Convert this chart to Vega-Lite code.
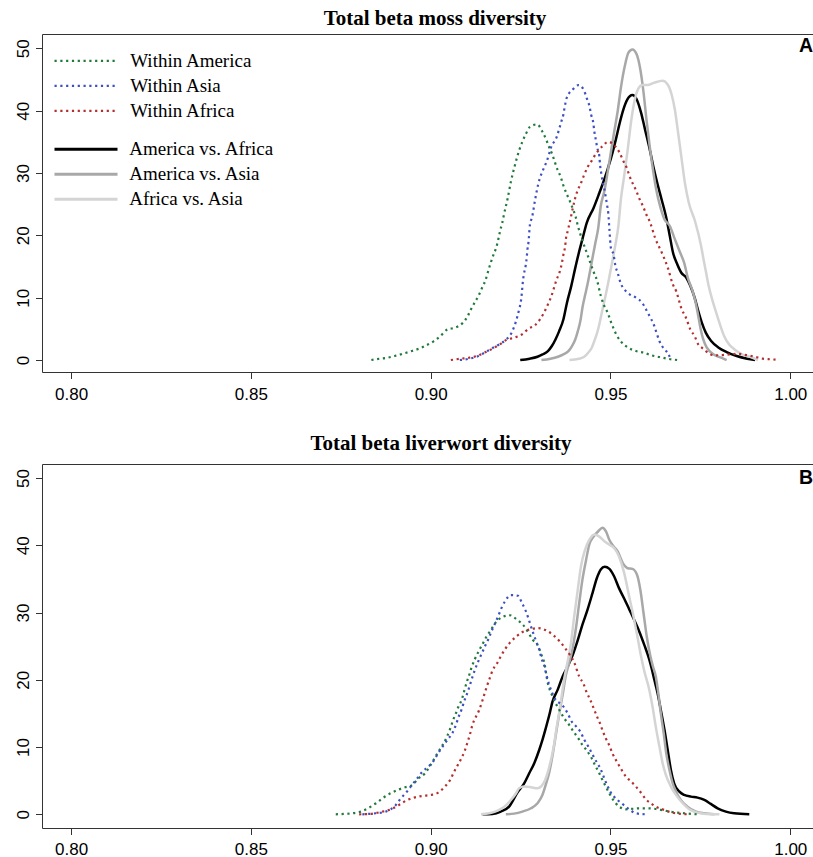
{
"$schema": "https://vega.github.io/schema/vega-lite/v6.json",
"padding": {"left": 14, "top": 8, "right": 0, "bottom": 0},
"background": "white",
"spacing": 30,
"config": {
  "view": {"stroke": null},
  "axis": {"domainColor": "#333333", "tickColor": "#333333", "labelColor": "#000000", "labelFont": "Liberation Sans", "labelFontSize": 17, "grid": false, "tickSize": 6.5, "domainWidth": 1, "tickWidth": 1}
},
"datasets": {
"moss": [
{"g":"Within America","x":0.8835,"y":0},{"g":"Within America","x":0.8857,"y":0.2},{"g":"Within America","x":0.8879,"y":0.37},{"g":"Within America","x":0.8903,"y":0.7},{"g":"Within America","x":0.8926,"y":1.07},{"g":"Within America","x":0.8948,"y":1.45},{"g":"Within America","x":0.897,"y":1.87},{"g":"Within America","x":0.8989,"y":2.4},{"g":"Within America","x":0.9008,"y":3.0},{"g":"Within America","x":0.9027,"y":3.85},{"g":"Within America","x":0.9047,"y":4.92},{"g":"Within America","x":0.9068,"y":5.19},{"g":"Within America","x":0.9088,"y":5.88},{"g":"Within America","x":0.9102,"y":6.95},{"g":"Within America","x":0.9112,"y":8.13},{"g":"Within America","x":0.9122,"y":9.2},{"g":"Within America","x":0.9133,"y":10.3},{"g":"Within America","x":0.9143,"y":11.6},{"g":"Within America","x":0.9153,"y":12.9},{"g":"Within America","x":0.916,"y":14.3},{"g":"Within America","x":0.9167,"y":15.6},{"g":"Within America","x":0.9174,"y":16.8},{"g":"Within America","x":0.9182,"y":18.0},{"g":"Within America","x":0.9189,"y":19.6},{"g":"Within America","x":0.9193,"y":20.7},{"g":"Within America","x":0.9199,"y":22.0},{"g":"Within America","x":0.9204,"y":23.4},{"g":"Within America","x":0.9214,"y":25.9},{"g":"Within America","x":0.9223,"y":28.6},{"g":"Within America","x":0.9234,"y":31.2},{"g":"Within America","x":0.9247,"y":33.8},{"g":"Within America","x":0.9265,"y":36.3},{"g":"Within America","x":0.9276,"y":37.4},{"g":"Within America","x":0.9296,"y":37.8},{"g":"Within America","x":0.931,"y":36.7},{"g":"Within America","x":0.9321,"y":35.4},{"g":"Within America","x":0.9329,"y":34.2},{"g":"Within America","x":0.9338,"y":33.0},{"g":"Within America","x":0.9345,"y":31.8},{"g":"Within America","x":0.9353,"y":30.5},{"g":"Within America","x":0.9362,"y":29.3},{"g":"Within America","x":0.9369,"y":28.0},{"g":"Within America","x":0.9377,"y":26.8},{"g":"Within America","x":0.9387,"y":25.5},{"g":"Within America","x":0.9395,"y":24.3},{"g":"Within America","x":0.9403,"y":23.0},{"g":"Within America","x":0.9409,"y":21.6},{"g":"Within America","x":0.942,"y":19.5},{"g":"Within America","x":0.9434,"y":17.2},{"g":"Within America","x":0.9444,"y":15.6},{"g":"Within America","x":0.9454,"y":14.0},{"g":"Within America","x":0.9463,"y":12.7},{"g":"Within America","x":0.9473,"y":10.3},{"g":"Within America","x":0.9481,"y":8.9},{"g":"Within America","x":0.9492,"y":7.6},{"g":"Within America","x":0.9502,"y":6.0},{"g":"Within America","x":0.9517,"y":4.0},{"g":"Within America","x":0.9528,"y":3.05},{"g":"Within America","x":0.9549,"y":2.0},{"g":"Within America","x":0.9571,"y":1.44},{"g":"Within America","x":0.9593,"y":1.18},{"g":"Within America","x":0.9614,"y":0.75},{"g":"Within America","x":0.9636,"y":0.48},{"g":"Within America","x":0.9658,"y":0.21},{"g":"Within America","x":0.9687,"y":0},
{"g":"Within Asia","x":0.9081,"y":0},{"g":"Within Asia","x":0.9107,"y":0.21},{"g":"Within Asia","x":0.9128,"y":0.53},{"g":"Within Asia","x":0.915,"y":1.18},{"g":"Within Asia","x":0.9169,"y":1.82},{"g":"Within Asia","x":0.9189,"y":2.46},{"g":"Within Asia","x":0.9208,"y":3.21},{"g":"Within Asia","x":0.9225,"y":4.39},{"g":"Within Asia","x":0.9236,"y":5.99},{"g":"Within Asia","x":0.9246,"y":8.13},{"g":"Within Asia","x":0.9251,"y":9.47},{"g":"Within Asia","x":0.9254,"y":11.07},{"g":"Within Asia","x":0.9256,"y":12.4},{"g":"Within Asia","x":0.9259,"y":13.7},{"g":"Within Asia","x":0.9264,"y":15.1},{"g":"Within Asia","x":0.9267,"y":16.4},{"g":"Within Asia","x":0.9269,"y":17.7},{"g":"Within Asia","x":0.9272,"y":18.9},{"g":"Within Asia","x":0.9276,"y":21.7},{"g":"Within Asia","x":0.9282,"y":22.9},{"g":"Within Asia","x":0.929,"y":25.6},{"g":"Within Asia","x":0.9299,"y":28.2},{"g":"Within Asia","x":0.9314,"y":30.7},{"g":"Within Asia","x":0.9323,"y":31.9},{"g":"Within Asia","x":0.9336,"y":34.3},{"g":"Within Asia","x":0.935,"y":35.7},{"g":"Within Asia","x":0.9357,"y":37.0},{"g":"Within Asia","x":0.9363,"y":38.2},{"g":"Within Asia","x":0.9369,"y":39.4},{"g":"Within Asia","x":0.9373,"y":40.7},{"g":"Within Asia","x":0.9378,"y":42.0},{"g":"Within Asia","x":0.9395,"y":43.4},{"g":"Within Asia","x":0.9411,"y":44.1},{"g":"Within Asia","x":0.9426,"y":43.3},{"g":"Within Asia","x":0.9434,"y":42.0},{"g":"Within Asia","x":0.9442,"y":40.6},{"g":"Within Asia","x":0.9446,"y":39.4},{"g":"Within Asia","x":0.9452,"y":38.1},{"g":"Within Asia","x":0.9455,"y":36.7},{"g":"Within Asia","x":0.9459,"y":35.4},{"g":"Within Asia","x":0.9463,"y":34.1},{"g":"Within Asia","x":0.9469,"y":32.7},{"g":"Within Asia","x":0.9471,"y":31.3},{"g":"Within Asia","x":0.9474,"y":30.1},{"g":"Within Asia","x":0.9478,"y":28.7},{"g":"Within Asia","x":0.9483,"y":27.4},{"g":"Within Asia","x":0.9487,"y":26.1},{"g":"Within Asia","x":0.9491,"y":24.7},{"g":"Within Asia","x":0.9494,"y":23.5},{"g":"Within Asia","x":0.9497,"y":21.0},{"g":"Within Asia","x":0.9501,"y":18.0},{"g":"Within Asia","x":0.9509,"y":16.8},{"g":"Within Asia","x":0.9513,"y":15.3},{"g":"Within Asia","x":0.952,"y":14.0},{"g":"Within Asia","x":0.9528,"y":12.4},{"g":"Within Asia","x":0.9542,"y":11.1},{"g":"Within Asia","x":0.9554,"y":10.5},{"g":"Within Asia","x":0.9571,"y":10.0},{"g":"Within Asia","x":0.9588,"y":9.2},{"g":"Within Asia","x":0.96,"y":8.0},{"g":"Within Asia","x":0.9611,"y":6.8},{"g":"Within Asia","x":0.9622,"y":5.45},{"g":"Within Asia","x":0.9629,"y":4.2},{"g":"Within Asia","x":0.9636,"y":3.05},{"g":"Within Asia","x":0.965,"y":1.7},{"g":"Within Asia","x":0.9662,"y":0.9},{"g":"Within Asia","x":0.9667,"y":0},
{"g":"Within Africa","x":0.9056,"y":0},{"g":"Within Africa","x":0.9083,"y":0.21},{"g":"Within Africa","x":0.9106,"y":0.37},{"g":"Within Africa","x":0.9128,"y":0.64},{"g":"Within Africa","x":0.9153,"y":1.28},{"g":"Within Africa","x":0.9172,"y":1.82},{"g":"Within Africa","x":0.9192,"y":2.51},{"g":"Within Africa","x":0.921,"y":3.21},{"g":"Within Africa","x":0.9232,"y":3.58},{"g":"Within Africa","x":0.9254,"y":4.12},{"g":"Within Africa","x":0.9272,"y":5.03},{"g":"Within Africa","x":0.929,"y":5.56},{"g":"Within Africa","x":0.9304,"y":6.52},{"g":"Within Africa","x":0.9316,"y":7.7},{"g":"Within Africa","x":0.9326,"y":8.93},{"g":"Within Africa","x":0.9336,"y":10.3},{"g":"Within Africa","x":0.9343,"y":11.6},{"g":"Within Africa","x":0.935,"y":12.9},{"g":"Within Africa","x":0.9358,"y":14.0},{"g":"Within Africa","x":0.9365,"y":15.6},{"g":"Within Africa","x":0.9369,"y":16.9},{"g":"Within Africa","x":0.9374,"y":18.3},{"g":"Within Africa","x":0.9376,"y":19.4},{"g":"Within Africa","x":0.9381,"y":20.7},{"g":"Within Africa","x":0.9386,"y":21.9},{"g":"Within Africa","x":0.9395,"y":24.3},{"g":"Within Africa","x":0.9401,"y":25.8},{"g":"Within Africa","x":0.9408,"y":27.1},{"g":"Within Africa","x":0.9418,"y":28.4},{"g":"Within Africa","x":0.9426,"y":29.6},{"g":"Within Africa","x":0.9436,"y":30.9},{"g":"Within Africa","x":0.9448,"y":32.0},{"g":"Within Africa","x":0.9461,"y":33.2},{"g":"Within Africa","x":0.9476,"y":34.2},{"g":"Within Africa","x":0.9494,"y":35.0},{"g":"Within Africa","x":0.9513,"y":34.3},{"g":"Within Africa","x":0.9525,"y":33.3},{"g":"Within Africa","x":0.9536,"y":31.9},{"g":"Within Africa","x":0.9546,"y":30.7},{"g":"Within Africa","x":0.9553,"y":29.5},{"g":"Within Africa","x":0.9562,"y":28.3},{"g":"Within Africa","x":0.9572,"y":27.1},{"g":"Within Africa","x":0.9581,"y":25.8},{"g":"Within Africa","x":0.9591,"y":24.6},{"g":"Within Africa","x":0.96,"y":23.3},{"g":"Within Africa","x":0.961,"y":22.1},{"g":"Within Africa","x":0.9624,"y":19.6},{"g":"Within Africa","x":0.9643,"y":17.2},{"g":"Within Africa","x":0.966,"y":14.7},{"g":"Within Africa","x":0.9673,"y":12.2},{"g":"Within Africa","x":0.9683,"y":11.0},{"g":"Within Africa","x":0.9691,"y":9.47},{"g":"Within Africa","x":0.9698,"y":8.13},{"g":"Within Africa","x":0.9708,"y":7.06},{"g":"Within Africa","x":0.9715,"y":5.99},{"g":"Within Africa","x":0.9722,"y":4.92},{"g":"Within Africa","x":0.9734,"y":3.85},{"g":"Within Africa","x":0.9744,"y":2.51},{"g":"Within Africa","x":0.9754,"y":1.98},{"g":"Within Africa","x":0.9765,"y":1.44},{"g":"Within Africa","x":0.9787,"y":0.75},{"g":"Within Africa","x":0.9812,"y":0.8},{"g":"Within Africa","x":0.9854,"y":1.0},{"g":"Within Africa","x":0.9877,"y":0.8},{"g":"Within Africa","x":0.99,"y":0.55},{"g":"Within Africa","x":0.9923,"y":0.22},{"g":"Within Africa","x":0.9947,"y":0.11},{"g":"Within Africa","x":0.9969,"y":0},
{"g":"America vs. Africa","x":0.9249,"y":0},{"g":"America vs. Africa","x":0.9275,"y":0.21},{"g":"America vs. Africa","x":0.9297,"y":0.53},{"g":"America vs. Africa","x":0.9311,"y":0.9},{"g":"America vs. Africa","x":0.9326,"y":1.44},{"g":"America vs. Africa","x":0.9337,"y":2.25},{"g":"America vs. Africa","x":0.9347,"y":3.3},{"g":"America vs. Africa","x":0.9357,"y":4.6},{"g":"America vs. Africa","x":0.9369,"y":6.5},{"g":"America vs. Africa","x":0.9379,"y":9.2},{"g":"America vs. Africa","x":0.9391,"y":11.9},{"g":"America vs. Africa","x":0.9401,"y":14.5},{"g":"America vs. Africa","x":0.9412,"y":17.2},{"g":"America vs. Africa","x":0.9422,"y":19.4},{"g":"America vs. Africa","x":0.9434,"y":22.0},{"g":"America vs. Africa","x":0.9453,"y":24.4},{"g":"America vs. Africa","x":0.9469,"y":26.8},{"g":"America vs. Africa","x":0.9478,"y":28.2},{"g":"America vs. Africa","x":0.9492,"y":30.6},{"g":"America vs. Africa","x":0.9503,"y":32.7},{"g":"America vs. Africa","x":0.9515,"y":35.4},{"g":"America vs. Africa","x":0.9526,"y":38.1},{"g":"America vs. Africa","x":0.9536,"y":40.2},{"g":"America vs. Africa","x":0.9547,"y":41.8},{"g":"America vs. Africa","x":0.9561,"y":42.5},{"g":"America vs. Africa","x":0.9573,"y":41.8},{"g":"America vs. Africa","x":0.9585,"y":39.7},{"g":"America vs. Africa","x":0.9596,"y":37.0},{"g":"America vs. Africa","x":0.9608,"y":34.1},{"g":"America vs. Africa","x":0.9619,"y":31.1},{"g":"America vs. Africa","x":0.9631,"y":28.2},{"g":"America vs. Africa","x":0.9642,"y":25.8},{"g":"America vs. Africa","x":0.9656,"y":22.6},{"g":"America vs. Africa","x":0.9665,"y":19.9},{"g":"America vs. Africa","x":0.9674,"y":17.2},{"g":"America vs. Africa","x":0.9684,"y":15.6},{"g":"America vs. Africa","x":0.9697,"y":14.0},{"g":"America vs. Africa","x":0.9711,"y":13.2},{"g":"America vs. Africa","x":0.9722,"y":11.9},{"g":"America vs. Africa","x":0.9734,"y":10.0},{"g":"America vs. Africa","x":0.9744,"y":7.9},{"g":"America vs. Africa","x":0.9754,"y":6.0},{"g":"America vs. Africa","x":0.9765,"y":4.4},{"g":"America vs. Africa","x":0.978,"y":3.04},{"g":"America vs. Africa","x":0.9801,"y":1.98},{"g":"America vs. Africa","x":0.9823,"y":1.28},{"g":"America vs. Africa","x":0.9851,"y":0.64},{"g":"America vs. Africa","x":0.988,"y":0.21},{"g":"America vs. Africa","x":0.9902,"y":0},
{"g":"America vs. Asia","x":0.9308,"y":0},{"g":"America vs. Asia","x":0.9333,"y":0.21},{"g":"America vs. Asia","x":0.9354,"y":0.53},{"g":"America vs. Asia","x":0.9369,"y":0.9},{"g":"America vs. Asia","x":0.9383,"y":1.44},{"g":"America vs. Asia","x":0.9393,"y":2.25},{"g":"America vs. Asia","x":0.9402,"y":3.3},{"g":"America vs. Asia","x":0.9409,"y":4.6},{"g":"America vs. Asia","x":0.9417,"y":6.5},{"g":"America vs. Asia","x":0.9422,"y":8.4},{"g":"America vs. Asia","x":0.9429,"y":10.3},{"g":"America vs. Asia","x":0.9437,"y":12.4},{"g":"America vs. Asia","x":0.9444,"y":14.5},{"g":"America vs. Asia","x":0.9451,"y":16.7},{"g":"America vs. Asia","x":0.9458,"y":18.8},{"g":"America vs. Asia","x":0.9466,"y":21.2},{"g":"America vs. Asia","x":0.9473,"y":24.7},{"g":"America vs. Asia","x":0.9483,"y":27.1},{"g":"America vs. Asia","x":0.9492,"y":30.1},{"g":"America vs. Asia","x":0.9501,"y":33.3},{"g":"America vs. Asia","x":0.951,"y":36.5},{"g":"America vs. Asia","x":0.952,"y":39.9},{"g":"America vs. Asia","x":0.9529,"y":43.7},{"g":"America vs. Asia","x":0.954,"y":47.2},{"g":"America vs. Asia","x":0.955,"y":49.3},{"g":"America vs. Asia","x":0.9561,"y":49.8},{"g":"America vs. Asia","x":0.9573,"y":49.0},{"g":"America vs. Asia","x":0.9583,"y":46.6},{"g":"America vs. Asia","x":0.9592,"y":42.9},{"g":"America vs. Asia","x":0.96,"y":38.6},{"g":"America vs. Asia","x":0.9609,"y":34.3},{"g":"America vs. Asia","x":0.9618,"y":30.6},{"g":"America vs. Asia","x":0.9627,"y":27.4},{"g":"America vs. Asia","x":0.9638,"y":24.7},{"g":"America vs. Asia","x":0.965,"y":22.6},{"g":"America vs. Asia","x":0.9665,"y":21.5},{"g":"America vs. Asia","x":0.9679,"y":19.4},{"g":"America vs. Asia","x":0.9694,"y":17.2},{"g":"America vs. Asia","x":0.9705,"y":15.6},{"g":"America vs. Asia","x":0.9715,"y":13.2},{"g":"America vs. Asia","x":0.9727,"y":11.3},{"g":"America vs. Asia","x":0.9737,"y":9.2},{"g":"America vs. Asia","x":0.9744,"y":7.1},{"g":"America vs. Asia","x":0.9751,"y":4.9},{"g":"America vs. Asia","x":0.9758,"y":3.3},{"g":"America vs. Asia","x":0.9768,"y":1.98},{"g":"America vs. Asia","x":0.9787,"y":0.9},{"g":"America vs. Asia","x":0.9808,"y":0.37},{"g":"America vs. Asia","x":0.9823,"y":0},
{"g":"Africa vs. Asia","x":0.9386,"y":0},{"g":"Africa vs. Asia","x":0.9412,"y":0.21},{"g":"Africa vs. Asia","x":0.9427,"y":0.53},{"g":"Africa vs. Asia","x":0.9438,"y":1.18},{"g":"Africa vs. Asia","x":0.9448,"y":1.98},{"g":"Africa vs. Asia","x":0.9455,"y":3.04},{"g":"Africa vs. Asia","x":0.9463,"y":4.39},{"g":"Africa vs. Asia","x":0.947,"y":5.99},{"g":"Africa vs. Asia","x":0.9477,"y":7.9},{"g":"Africa vs. Asia","x":0.9484,"y":9.7},{"g":"Africa vs. Asia","x":0.9492,"y":11.9},{"g":"Africa vs. Asia","x":0.9499,"y":14.0},{"g":"Africa vs. Asia","x":0.9506,"y":16.1},{"g":"Africa vs. Asia","x":0.9513,"y":18.3},{"g":"Africa vs. Asia","x":0.9522,"y":21.5},{"g":"Africa vs. Asia","x":0.9529,"y":25.8},{"g":"Africa vs. Asia","x":0.9538,"y":29.5},{"g":"Africa vs. Asia","x":0.9548,"y":33.8},{"g":"Africa vs. Asia","x":0.9557,"y":38.1},{"g":"Africa vs. Asia","x":0.9566,"y":41.3},{"g":"Africa vs. Asia","x":0.9577,"y":43.5},{"g":"Africa vs. Asia","x":0.9589,"y":44.1},{"g":"Africa vs. Asia","x":0.9603,"y":44.1},{"g":"Africa vs. Asia","x":0.9622,"y":44.5},{"g":"Africa vs. Asia","x":0.9645,"y":44.8},{"g":"Africa vs. Asia","x":0.9659,"y":44.2},{"g":"Africa vs. Asia","x":0.967,"y":42.6},{"g":"Africa vs. Asia","x":0.9679,"y":40.2},{"g":"Africa vs. Asia","x":0.9688,"y":36.5},{"g":"Africa vs. Asia","x":0.9698,"y":32.2},{"g":"Africa vs. Asia","x":0.9707,"y":28.4},{"g":"Africa vs. Asia","x":0.9718,"y":25.2},{"g":"Africa vs. Asia","x":0.9735,"y":22.3},{"g":"Africa vs. Asia","x":0.9752,"y":18.3},{"g":"Africa vs. Asia","x":0.9759,"y":16.1},{"g":"Africa vs. Asia","x":0.9766,"y":14.0},{"g":"Africa vs. Asia","x":0.9773,"y":11.9},{"g":"Africa vs. Asia","x":0.9783,"y":9.7},{"g":"Africa vs. Asia","x":0.9794,"y":7.6},{"g":"Africa vs. Asia","x":0.9806,"y":5.45},{"g":"Africa vs. Asia","x":0.9816,"y":3.85},{"g":"Africa vs. Asia","x":0.983,"y":2.5},{"g":"Africa vs. Asia","x":0.9845,"y":1.7},{"g":"Africa vs. Asia","x":0.9866,"y":0.9},{"g":"Africa vs. Asia","x":0.9888,"y":0.53},{"g":"Africa vs. Asia","x":0.991,"y":0}
],
"liver": [
{"g":"Within America","x":0.8736,"y":0},{"g":"Within America","x":0.8759,"y":0.05},{"g":"Within America","x":0.8783,"y":0.15},{"g":"Within America","x":0.8806,"y":0.4},{"g":"Within America","x":0.8829,"y":0.99},{"g":"Within America","x":0.8848,"y":1.64},{"g":"Within America","x":0.8866,"y":2.38},{"g":"Within America","x":0.8885,"y":3.03},{"g":"Within America","x":0.8908,"y":3.62},{"g":"Within America","x":0.8929,"y":4.02},{"g":"Within America","x":0.895,"y":4.37},{"g":"Within America","x":0.8963,"y":5.2},{"g":"Within America","x":0.8984,"y":6.1},{"g":"Within America","x":0.8996,"y":7.0},{"g":"Within America","x":0.9007,"y":8.0},{"g":"Within America","x":0.9019,"y":9.1},{"g":"Within America","x":0.9033,"y":10.3},{"g":"Within America","x":0.9044,"y":11.4},{"g":"Within America","x":0.9054,"y":12.7},{"g":"Within America","x":0.9063,"y":14.1},{"g":"Within America","x":0.907,"y":15.0},{"g":"Within America","x":0.9077,"y":16.0},{"g":"Within America","x":0.9086,"y":17.0},{"g":"Within America","x":0.9093,"y":18.3},{"g":"Within America","x":0.91,"y":19.6},{"g":"Within America","x":0.9107,"y":20.7},{"g":"Within America","x":0.9114,"y":21.9},{"g":"Within America","x":0.9123,"y":23.1},{"g":"Within America","x":0.9133,"y":24.2},{"g":"Within America","x":0.9144,"y":25.3},{"g":"Within America","x":0.9155,"y":26.4},{"g":"Within America","x":0.9167,"y":27.4},{"g":"Within America","x":0.9179,"y":28.4},{"g":"Within America","x":0.9198,"y":29.3},{"g":"Within America","x":0.922,"y":29.6},{"g":"Within America","x":0.9241,"y":28.9},{"g":"Within America","x":0.9258,"y":28.1},{"g":"Within America","x":0.9271,"y":27.1},{"g":"Within America","x":0.9283,"y":26.0},{"g":"Within America","x":0.9299,"y":25.0},{"g":"Within America","x":0.9308,"y":23.7},{"g":"Within America","x":0.9316,"y":22.5},{"g":"Within America","x":0.9325,"y":19.7},{"g":"Within America","x":0.9339,"y":17.5},{"g":"Within America","x":0.9358,"y":15.5},{"g":"Within America","x":0.9371,"y":14.3},{"g":"Within America","x":0.9385,"y":13.3},{"g":"Within America","x":0.9397,"y":12.3},{"g":"Within America","x":0.9408,"y":11.5},{"g":"Within America","x":0.9422,"y":10.3},{"g":"Within America","x":0.9434,"y":9.5},{"g":"Within America","x":0.9446,"y":8.5},{"g":"Within America","x":0.9457,"y":7.3},{"g":"Within America","x":0.9467,"y":6.3},{"g":"Within America","x":0.9476,"y":5.3},{"g":"Within America","x":0.9487,"y":4.1},{"g":"Within America","x":0.9497,"y":3.1},{"g":"Within America","x":0.9508,"y":2.1},{"g":"Within America","x":0.9524,"y":1.14},{"g":"Within America","x":0.9543,"y":0.74},{"g":"Within America","x":0.9557,"y":0.79},{"g":"Within America","x":0.958,"y":0.89},{"g":"Within America","x":0.9603,"y":0.89},{"g":"Within America","x":0.9626,"y":0.79},{"g":"Within America","x":0.965,"y":0.55},{"g":"Within America","x":0.9677,"y":0.3},{"g":"Within America","x":0.9705,"y":0.15},{"g":"Within America","x":0.9742,"y":0},
{"g":"Within Asia","x":0.881,"y":0},{"g":"Within Asia","x":0.8847,"y":0.15},{"g":"Within Asia","x":0.8875,"y":0.4},{"g":"Within Asia","x":0.8889,"y":0.74},{"g":"Within Asia","x":0.8903,"y":1.39},{"g":"Within Asia","x":0.8917,"y":2.38},{"g":"Within Asia","x":0.8934,"y":3.37},{"g":"Within Asia","x":0.8948,"y":4.37},{"g":"Within Asia","x":0.8963,"y":5.36},{"g":"Within Asia","x":0.8977,"y":6.35},{"g":"Within Asia","x":0.8994,"y":7.1},{"g":"Within Asia","x":0.901,"y":8.1},{"g":"Within Asia","x":0.9022,"y":9.2},{"g":"Within Asia","x":0.9035,"y":10.2},{"g":"Within Asia","x":0.9047,"y":11.1},{"g":"Within Asia","x":0.9061,"y":12.15},{"g":"Within Asia","x":0.907,"y":13.3},{"g":"Within Asia","x":0.9077,"y":14.4},{"g":"Within Asia","x":0.9086,"y":15.6},{"g":"Within Asia","x":0.9093,"y":16.8},{"g":"Within Asia","x":0.9101,"y":17.9},{"g":"Within Asia","x":0.9109,"y":19.2},{"g":"Within Asia","x":0.9116,"y":20.4},{"g":"Within Asia","x":0.9123,"y":21.5},{"g":"Within Asia","x":0.9132,"y":22.7},{"g":"Within Asia","x":0.9141,"y":23.8},{"g":"Within Asia","x":0.9151,"y":25.0},{"g":"Within Asia","x":0.916,"y":26.0},{"g":"Within Asia","x":0.9169,"y":27.2},{"g":"Within Asia","x":0.9179,"y":28.4},{"g":"Within Asia","x":0.9188,"y":29.5},{"g":"Within Asia","x":0.9197,"y":30.7},{"g":"Within Asia","x":0.9207,"y":31.7},{"g":"Within Asia","x":0.9223,"y":32.6},{"g":"Within Asia","x":0.9243,"y":32.5},{"g":"Within Asia","x":0.9254,"y":31.4},{"g":"Within Asia","x":0.9264,"y":30.3},{"g":"Within Asia","x":0.9272,"y":29.1},{"g":"Within Asia","x":0.9279,"y":27.9},{"g":"Within Asia","x":0.9286,"y":26.8},{"g":"Within Asia","x":0.9294,"y":25.6},{"g":"Within Asia","x":0.9302,"y":24.5},{"g":"Within Asia","x":0.9308,"y":23.2},{"g":"Within Asia","x":0.9316,"y":22.1},{"g":"Within Asia","x":0.9322,"y":20.7},{"g":"Within Asia","x":0.9336,"y":18.3},{"g":"Within Asia","x":0.9348,"y":17.0},{"g":"Within Asia","x":0.9365,"y":16.3},{"g":"Within Asia","x":0.9381,"y":15.0},{"g":"Within Asia","x":0.9392,"y":13.8},{"g":"Within Asia","x":0.9404,"y":13.1},{"g":"Within Asia","x":0.9416,"y":12.3},{"g":"Within Asia","x":0.9427,"y":11.1},{"g":"Within Asia","x":0.9438,"y":10.1},{"g":"Within Asia","x":0.945,"y":8.9},{"g":"Within Asia","x":0.9461,"y":7.8},{"g":"Within Asia","x":0.9472,"y":6.8},{"g":"Within Asia","x":0.9481,"y":5.6},{"g":"Within Asia","x":0.949,"y":4.4},{"g":"Within Asia","x":0.9499,"y":3.4},{"g":"Within Asia","x":0.951,"y":2.6},{"g":"Within Asia","x":0.952,"y":2.1},{"g":"Within Asia","x":0.9534,"y":1.5},{"g":"Within Asia","x":0.9552,"y":0.74},{"g":"Within Asia","x":0.9571,"y":0.15},{"g":"Within Asia","x":0.9596,"y":0},
{"g":"Within Africa","x":0.8801,"y":0},{"g":"Within Africa","x":0.8829,"y":0.05},{"g":"Within Africa","x":0.8866,"y":0.4},{"g":"Within Africa","x":0.8889,"y":0.74},{"g":"Within Africa","x":0.8912,"y":1.39},{"g":"Within Africa","x":0.8934,"y":2.1},{"g":"Within Africa","x":0.8954,"y":2.48},{"g":"Within Africa","x":0.8977,"y":2.73},{"g":"Within Africa","x":0.9001,"y":2.88},{"g":"Within Africa","x":0.9021,"y":3.22},{"g":"Within Africa","x":0.9039,"y":4.1},{"g":"Within Africa","x":0.9054,"y":5.1},{"g":"Within Africa","x":0.9065,"y":6.3},{"g":"Within Africa","x":0.9075,"y":7.3},{"g":"Within Africa","x":0.9086,"y":8.4},{"g":"Within Africa","x":0.9095,"y":9.5},{"g":"Within Africa","x":0.9103,"y":10.8},{"g":"Within Africa","x":0.911,"y":12.05},{"g":"Within Africa","x":0.9116,"y":13.3},{"g":"Within Africa","x":0.9124,"y":14.3},{"g":"Within Africa","x":0.9134,"y":15.4},{"g":"Within Africa","x":0.9142,"y":16.6},{"g":"Within Africa","x":0.9149,"y":17.8},{"g":"Within Africa","x":0.9156,"y":19.0},{"g":"Within Africa","x":0.9164,"y":20.2},{"g":"Within Africa","x":0.9172,"y":21.4},{"g":"Within Africa","x":0.9184,"y":22.4},{"g":"Within Africa","x":0.9195,"y":23.5},{"g":"Within Africa","x":0.9206,"y":24.5},{"g":"Within Africa","x":0.922,"y":25.5},{"g":"Within Africa","x":0.9237,"y":26.4},{"g":"Within Africa","x":0.9255,"y":27.1},{"g":"Within Africa","x":0.9277,"y":27.5},{"g":"Within Africa","x":0.9299,"y":27.7},{"g":"Within Africa","x":0.9323,"y":27.3},{"g":"Within Africa","x":0.9342,"y":26.6},{"g":"Within Africa","x":0.9359,"y":25.7},{"g":"Within Africa","x":0.9374,"y":24.7},{"g":"Within Africa","x":0.9387,"y":23.7},{"g":"Within Africa","x":0.9399,"y":22.6},{"g":"Within Africa","x":0.9413,"y":20.5},{"g":"Within Africa","x":0.9425,"y":19.4},{"g":"Within Africa","x":0.9434,"y":18.1},{"g":"Within Africa","x":0.9444,"y":17.0},{"g":"Within Africa","x":0.9453,"y":15.8},{"g":"Within Africa","x":0.9462,"y":14.6},{"g":"Within Africa","x":0.9471,"y":13.5},{"g":"Within Africa","x":0.9478,"y":12.45},{"g":"Within Africa","x":0.9487,"y":11.3},{"g":"Within Africa","x":0.9497,"y":10.2},{"g":"Within Africa","x":0.9506,"y":9.0},{"g":"Within Africa","x":0.9518,"y":7.8},{"g":"Within Africa","x":0.9531,"y":6.6},{"g":"Within Africa","x":0.9543,"y":5.6},{"g":"Within Africa","x":0.9557,"y":4.9},{"g":"Within Africa","x":0.9571,"y":4.1},{"g":"Within Africa","x":0.9585,"y":3.2},{"g":"Within Africa","x":0.9599,"y":2.2},{"g":"Within Africa","x":0.9612,"y":1.64},{"g":"Within Africa","x":0.9626,"y":1.14},{"g":"Within Africa","x":0.965,"y":0.64},{"g":"Within Africa","x":0.9668,"y":0.3},{"g":"Within Africa","x":0.9696,"y":0.05},{"g":"Within Africa","x":0.9719,"y":0},
{"g":"America vs. Africa","x":0.9144,"y":0},{"g":"America vs. Africa","x":0.9172,"y":0.05},{"g":"America vs. Africa","x":0.9195,"y":0.4},{"g":"America vs. Africa","x":0.9218,"y":1.14},{"g":"America vs. Africa","x":0.9242,"y":3.3},{"g":"America vs. Africa","x":0.926,"y":4.6},{"g":"America vs. Africa","x":0.9274,"y":6.1},{"g":"America vs. Africa","x":0.9288,"y":7.6},{"g":"America vs. Africa","x":0.9302,"y":9.6},{"g":"America vs. Africa","x":0.9311,"y":11.1},{"g":"America vs. Africa","x":0.932,"y":12.8},{"g":"America vs. Africa","x":0.933,"y":14.8},{"g":"America vs. Africa","x":0.9339,"y":16.8},{"g":"America vs. Africa","x":0.9353,"y":18.5},{"g":"America vs. Africa","x":0.9367,"y":20.5},{"g":"America vs. Africa","x":0.9381,"y":22.0},{"g":"America vs. Africa","x":0.9395,"y":23.7},{"g":"America vs. Africa","x":0.9409,"y":25.9},{"g":"America vs. Africa","x":0.9422,"y":28.2},{"g":"America vs. Africa","x":0.9436,"y":30.4},{"g":"America vs. Africa","x":0.945,"y":32.9},{"g":"America vs. Africa","x":0.9462,"y":35.1},{"g":"America vs. Africa","x":0.9473,"y":36.4},{"g":"America vs. Africa","x":0.9484,"y":36.8},{"g":"America vs. Africa","x":0.9497,"y":36.5},{"g":"America vs. Africa","x":0.951,"y":35.4},{"g":"America vs. Africa","x":0.9524,"y":33.6},{"g":"America vs. Africa","x":0.9538,"y":32.1},{"g":"America vs. Africa","x":0.9552,"y":30.5},{"g":"America vs. Africa","x":0.9566,"y":28.9},{"g":"America vs. Africa","x":0.958,"y":27.2},{"g":"America vs. Africa","x":0.9594,"y":25.2},{"g":"America vs. Africa","x":0.9608,"y":23.0},{"g":"America vs. Africa","x":0.9614,"y":21.8},{"g":"America vs. Africa","x":0.9622,"y":20.0},{"g":"America vs. Africa","x":0.9631,"y":18.0},{"g":"America vs. Africa","x":0.964,"y":15.5},{"g":"America vs. Africa","x":0.965,"y":12.6},{"g":"America vs. Africa","x":0.9659,"y":9.6},{"g":"America vs. Africa","x":0.9668,"y":6.6},{"g":"America vs. Africa","x":0.9677,"y":4.6},{"g":"America vs. Africa","x":0.9691,"y":3.4},{"g":"America vs. Africa","x":0.9705,"y":2.88},{"g":"America vs. Africa","x":0.9724,"y":2.63},{"g":"America vs. Africa","x":0.9742,"y":2.48},{"g":"America vs. Africa","x":0.9761,"y":2.13},{"g":"America vs. Africa","x":0.9779,"y":1.54},{"g":"America vs. Africa","x":0.9798,"y":0.89},{"g":"America vs. Africa","x":0.9821,"y":0.4},{"g":"America vs. Africa","x":0.9844,"y":0.15},{"g":"America vs. Africa","x":0.9886,"y":0},
{"g":"America vs. Asia","x":0.9209,"y":0},{"g":"America vs. Asia","x":0.9232,"y":0.1},{"g":"America vs. Asia","x":0.9255,"y":0.4},{"g":"America vs. Asia","x":0.9279,"y":0.9},{"g":"America vs. Asia","x":0.9297,"y":1.64},{"g":"America vs. Asia","x":0.9311,"y":2.9},{"g":"America vs. Asia","x":0.932,"y":4.4},{"g":"America vs. Asia","x":0.933,"y":6.3},{"g":"America vs. Asia","x":0.9339,"y":8.8},{"g":"America vs. Asia","x":0.9348,"y":11.8},{"g":"America vs. Asia","x":0.9357,"y":14.8},{"g":"America vs. Asia","x":0.9367,"y":17.8},{"g":"America vs. Asia","x":0.9376,"y":20.7},{"g":"America vs. Asia","x":0.9384,"y":22.3},{"g":"America vs. Asia","x":0.9394,"y":24.5},{"g":"America vs. Asia","x":0.9404,"y":27.7},{"g":"America vs. Asia","x":0.9413,"y":31.4},{"g":"America vs. Asia","x":0.9422,"y":34.9},{"g":"America vs. Asia","x":0.9432,"y":37.8},{"g":"America vs. Asia","x":0.9441,"y":40.1},{"g":"America vs. Asia","x":0.9453,"y":41.3},{"g":"America vs. Asia","x":0.9466,"y":42.1},{"g":"America vs. Asia","x":0.9478,"y":42.6},{"g":"America vs. Asia","x":0.9487,"y":42.1},{"g":"America vs. Asia","x":0.9497,"y":40.8},{"g":"America vs. Asia","x":0.9508,"y":39.9},{"g":"America vs. Asia","x":0.952,"y":39.1},{"g":"America vs. Asia","x":0.9534,"y":37.4},{"g":"America vs. Asia","x":0.9548,"y":36.6},{"g":"America vs. Asia","x":0.9561,"y":36.5},{"g":"America vs. Asia","x":0.9574,"y":35.6},{"g":"America vs. Asia","x":0.9583,"y":33.4},{"g":"America vs. Asia","x":0.9592,"y":29.9},{"g":"America vs. Asia","x":0.9601,"y":26.4},{"g":"America vs. Asia","x":0.9611,"y":23.5},{"g":"America vs. Asia","x":0.9618,"y":22.0},{"g":"America vs. Asia","x":0.9626,"y":20.5},{"g":"America vs. Asia","x":0.9633,"y":18.0},{"g":"America vs. Asia","x":0.964,"y":15.0},{"g":"America vs. Asia","x":0.9648,"y":12.05},{"g":"America vs. Asia","x":0.9655,"y":9.1},{"g":"America vs. Asia","x":0.9664,"y":6.6},{"g":"America vs. Asia","x":0.9673,"y":4.6},{"g":"America vs. Asia","x":0.9682,"y":3.4},{"g":"America vs. Asia","x":0.9696,"y":2.1},{"g":"America vs. Asia","x":0.9714,"y":1.14},{"g":"America vs. Asia","x":0.9738,"y":0.4},{"g":"America vs. Asia","x":0.9761,"y":0.15},{"g":"America vs. Asia","x":0.9789,"y":0},
{"g":"Africa vs. Asia","x":0.914,"y":0},{"g":"Africa vs. Asia","x":0.9163,"y":0.15},{"g":"Africa vs. Asia","x":0.9186,"y":0.55},{"g":"Africa vs. Asia","x":0.9205,"y":1.14},{"g":"Africa vs. Asia","x":0.9223,"y":2.13},{"g":"Africa vs. Asia","x":0.9237,"y":3.1},{"g":"Africa vs. Asia","x":0.9246,"y":3.87},{"g":"Africa vs. Asia","x":0.926,"y":4.12},{"g":"Africa vs. Asia","x":0.9279,"y":4.02},{"g":"Africa vs. Asia","x":0.9297,"y":3.87},{"g":"Africa vs. Asia","x":0.9308,"y":4.2},{"g":"Africa vs. Asia","x":0.9318,"y":5.06},{"g":"Africa vs. Asia","x":0.9327,"y":6.5},{"g":"Africa vs. Asia","x":0.9334,"y":8.0},{"g":"Africa vs. Asia","x":0.9342,"y":10.0},{"g":"Africa vs. Asia","x":0.9349,"y":12.5},{"g":"Africa vs. Asia","x":0.9357,"y":15.0},{"g":"Africa vs. Asia","x":0.9364,"y":17.5},{"g":"Africa vs. Asia","x":0.9371,"y":20.0},{"g":"Africa vs. Asia","x":0.9378,"y":22.0},{"g":"Africa vs. Asia","x":0.939,"y":25.4},{"g":"Africa vs. Asia","x":0.9399,"y":29.4},{"g":"Africa vs. Asia","x":0.9409,"y":33.4},{"g":"Africa vs. Asia","x":0.9418,"y":36.9},{"g":"Africa vs. Asia","x":0.9429,"y":39.3},{"g":"Africa vs. Asia","x":0.9441,"y":40.8},{"g":"Africa vs. Asia","x":0.9455,"y":41.6},{"g":"Africa vs. Asia","x":0.9469,"y":41.3},{"g":"Africa vs. Asia","x":0.9483,"y":40.6},{"g":"Africa vs. Asia","x":0.9497,"y":40.1},{"g":"Africa vs. Asia","x":0.951,"y":39.6},{"g":"Africa vs. Asia","x":0.9524,"y":38.3},{"g":"Africa vs. Asia","x":0.9538,"y":35.9},{"g":"Africa vs. Asia","x":0.9552,"y":32.4},{"g":"Africa vs. Asia","x":0.9564,"y":29.4},{"g":"Africa vs. Asia","x":0.9575,"y":26.4},{"g":"Africa vs. Asia","x":0.9585,"y":23.5},{"g":"Africa vs. Asia","x":0.9594,"y":21.3},{"g":"Africa vs. Asia","x":0.9608,"y":18.5},{"g":"Africa vs. Asia","x":0.9617,"y":16.0},{"g":"Africa vs. Asia","x":0.9626,"y":13.0},{"g":"Africa vs. Asia","x":0.9636,"y":10.1},{"g":"Africa vs. Asia","x":0.9645,"y":7.6},{"g":"Africa vs. Asia","x":0.9654,"y":5.85},{"g":"Africa vs. Asia","x":0.9668,"y":4.12},{"g":"Africa vs. Asia","x":0.9682,"y":2.88},{"g":"Africa vs. Asia","x":0.9701,"y":1.64},{"g":"Africa vs. Asia","x":0.9719,"y":0.74},{"g":"Africa vs. Asia","x":0.9742,"y":0.25},{"g":"Africa vs. Asia","x":0.9766,"y":0.05},{"g":"Africa vs. Asia","x":0.9803,"y":0}
]
},
"vconcat": [
{
  "width": 772, "height": 338,
  "title": {"text": "Total beta moss diversity", "font": "Liberation Serif", "fontSize": 21, "fontWeight": "bold", "color": "#000000", "anchor": "middle", "frame": "group", "baseline": "alphabetic", "offset": -12, "dx": 7},
  "layer": [
    {
      "data": {"name": "moss"},
      "transform": [{"filter": "indexof(datum.g, ' vs. ') >= 0"}],
      "mark": {"type": "line", "strokeWidth": 2.5, "interpolate": "monotone"},
      "encoding": {
        "x": {"field": "x", "type": "quantitative", "title": null, "scale": {"domain": [0.7919, 1.0066], "nice": false, "zero": false}, "axis": {"values": [0.8, 0.85, 0.9, 0.95, 1.0], "format": ".2f", "labelPadding": 8.4}},
        "y": {"field": "y", "type": "quantitative", "title": null, "scale": {"domain": [-1.92, 52.3], "nice": false, "zero": false}, "axis": {"values": [0, 10, 20, 30, 40, 50], "labelAngle": -90, "labelAlign": "center", "labelBaseline": "bottom", "labelPadding": 3}},
        "color": {"field": "g", "type": "nominal", "scale": {"domain": ["America vs. Africa", "America vs. Asia", "Africa vs. Asia"], "range": ["#000000", "#a8a8a8", "#d4d4d4"]},
          "legend": {"orient": "none", "legendX": 11, "legendY": 105.3, "title": null, "direction": "vertical", "symbolType": "stroke", "symbolSize": 3969, "symbolStrokeWidth": 3, "clipHeight": 20, "rowPadding": 5, "labelFont": "Liberation Serif", "labelFontSize": 19, "labelColor": "#000000", "labelOffset": 10.2, "labelLimit": 400, "padding": 0}}
      }
    },
    {
      "data": {"name": "moss"},
      "transform": [{"filter": "indexof(datum.g, 'Within') >= 0"}],
      "mark": {"type": "line", "strokeWidth": 2.2, "strokeDash": [2.2, 3.6], "interpolate": "monotone"},
      "encoding": {
        "x": {"field": "x", "type": "quantitative", "title": null, "axis": {"orient": "top", "labels": false, "ticks": false, "domain": true}},
        "y": {"field": "y", "type": "quantitative", "title": null},
        "color": {"field": "g", "type": "nominal", "scale": {"domain": ["Within America", "Within Asia", "Within Africa"], "range": ["#217a3c", "#3d50c3", "#b52f2f"]},
          "legend": {"orient": "none", "legendX": 11, "legendY": 16.8, "title": null, "direction": "vertical", "symbolType": "stroke", "symbolSize": 3969, "symbolStrokeWidth": 2.2, "symbolDash": [2.2, 3.6], "clipHeight": 20, "rowPadding": 5, "labelFont": "Liberation Serif", "labelFontSize": 19, "labelColor": "#000000", "labelOffset": 11.2, "labelLimit": 400, "padding": 0}}
      }
    },
    {
      "data": {"values": [{"label": "A"}]},
      "mark": {"type": "text", "font": "Liberation Sans", "fontWeight": "bold", "fontSize": 19.5, "align": "center", "baseline": "middle", "color": "#000000"},
      "encoding": {
        "x": {"datum": 1.0044, "type": "quantitative", "axis": null},
        "y": {"datum": 50.4, "type": "quantitative"},
        "text": {"field": "label"}
      }
    }
  ],
  "resolve": {"scale": {"color": "independent"}, "axis": {"x": "independent"}}
},
{
  "width": 772, "height": 364,
  "title": {"text": "Total beta liverwort diversity", "font": "Liberation Serif", "fontSize": 21, "fontWeight": "bold", "color": "#000000", "anchor": "middle", "frame": "group", "baseline": "alphabetic", "offset": -7, "dx": 13},
  "layer": [
    {
      "data": {"name": "liver"},
      "transform": [{"filter": "indexof(datum.g, ' vs. ') >= 0"}],
      "mark": {"type": "line", "strokeWidth": 2.5, "interpolate": "monotone"},
      "encoding": {
        "x": {"field": "x", "type": "quantitative", "title": null, "scale": {"domain": [0.7919, 1.0066], "nice": false, "zero": false}, "axis": {"values": [0.8, 0.85, 0.9, 0.95, 1.0], "format": ".2f", "labelPadding": 6.9}},
        "y": {"field": "y", "type": "quantitative", "title": null, "scale": {"domain": [-2.04, 52.1], "nice": false, "zero": false}, "axis": {"values": [0, 10, 20, 30, 40, 50], "labelAngle": -90, "labelAlign": "center", "labelBaseline": "bottom", "labelPadding": 3}},
        "color": {"field": "g", "type": "nominal", "scale": {"domain": ["America vs. Africa", "America vs. Asia", "Africa vs. Asia"], "range": ["#000000", "#a8a8a8", "#d4d4d4"]}, "legend": null}
      }
    },
    {
      "data": {"name": "liver"},
      "transform": [{"filter": "indexof(datum.g, 'Within') >= 0"}],
      "mark": {"type": "line", "strokeWidth": 2.2, "strokeDash": [2.2, 3.6], "interpolate": "monotone"},
      "encoding": {
        "x": {"field": "x", "type": "quantitative", "title": null, "axis": {"orient": "top", "labels": false, "ticks": false, "domain": true}},
        "y": {"field": "y", "type": "quantitative", "title": null},
        "color": {"field": "g", "type": "nominal", "scale": {"domain": ["Within America", "Within Asia", "Within Africa"], "range": ["#217a3c", "#3d50c3", "#b52f2f"]}, "legend": null}
      }
    },
    {
      "data": {"values": [{"label": "B"}]},
      "mark": {"type": "text", "font": "Liberation Sans", "fontWeight": "bold", "fontSize": 19.5, "align": "center", "baseline": "middle", "color": "#000000"},
      "encoding": {
        "x": {"datum": 1.0044, "type": "quantitative", "axis": null},
        "y": {"datum": 50.0, "type": "quantitative"},
        "text": {"field": "label"}
      }
    }
  ],
  "resolve": {"scale": {"color": "independent"}, "axis": {"x": "independent"}}
}
]
}
